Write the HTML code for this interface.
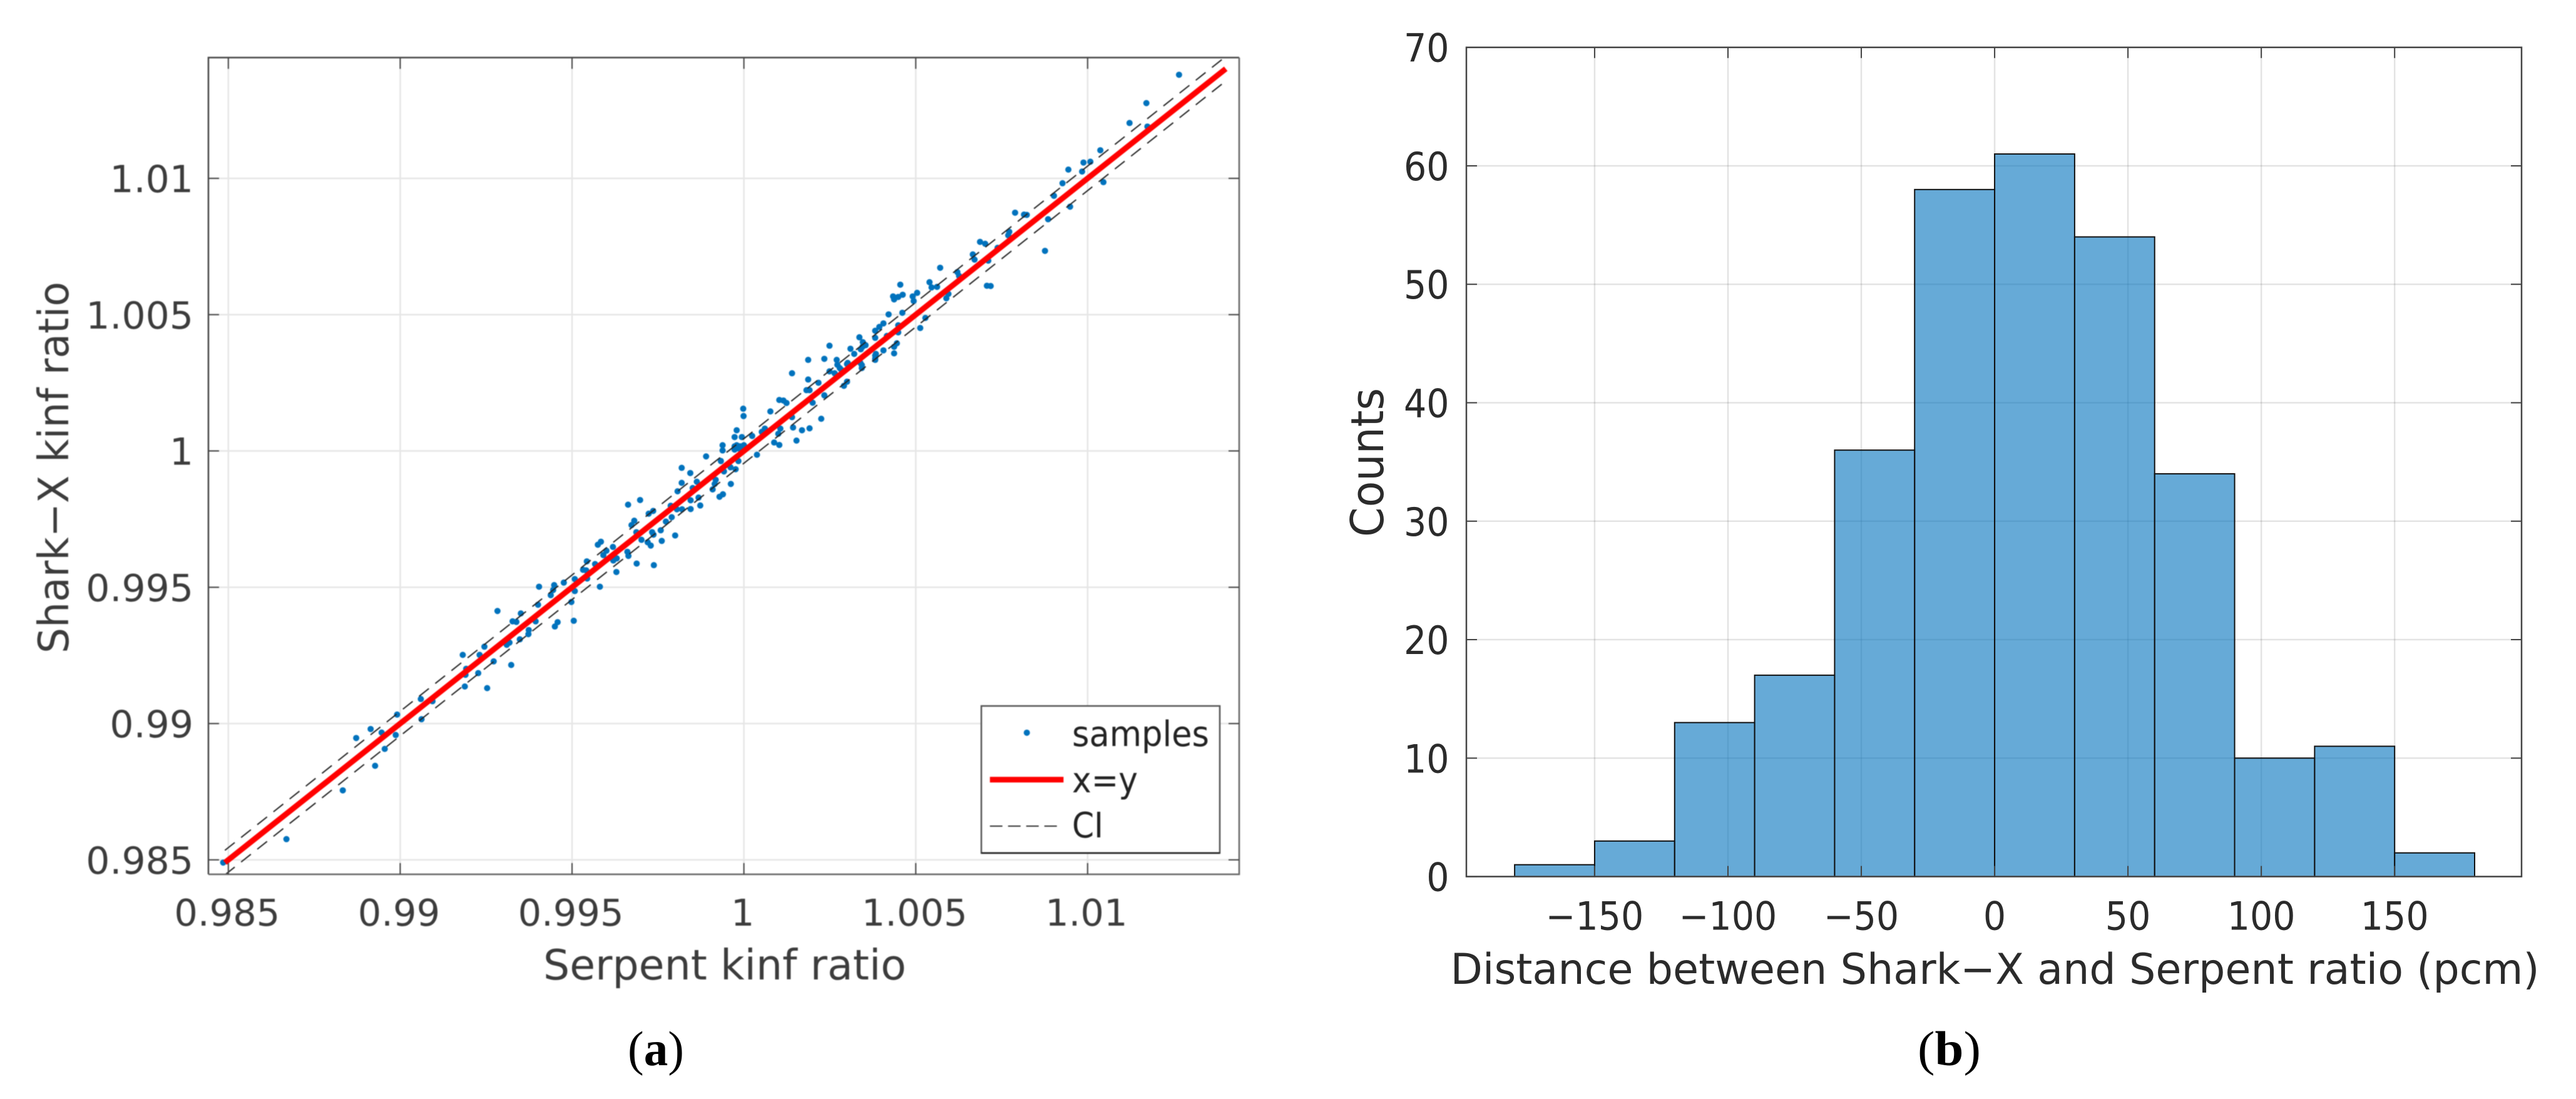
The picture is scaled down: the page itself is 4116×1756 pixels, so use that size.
<!DOCTYPE html>
<html lang="en">
<head>
<meta charset="utf-8">
<title>Shark-X vs Serpent kinf ratio</title>
<style>
html,body{margin:0;padding:0;background:#fff;}
svg{display:block;}
text{font-family:"DejaVu Sans","Liberation Sans",sans-serif;}
.cap{font-family:"Liberation Serif",serif;fill:#000;}
</style>
</head>
<body>
<svg id="figure" xmlns="http://www.w3.org/2000/svg" width="4116" height="1756" viewBox="0 0 4116 1756">
  <rect x="0" y="0" width="4116" height="1756" fill="#fff"/>
  <defs>
    <clipPath id="clip-a"><rect x="333" y="92" width="1647" height="1305"/></clipPath>
    <filter id="soft-a" x="0" y="0" width="100%" height="100%" filterUnits="userSpaceOnUse" primitiveUnits="userSpaceOnUse">
      <feGaussianBlur stdDeviation="0.9"/>
    </filter>
  </defs>

  <g id="panel-a">
    <g style="filter:blur(0.9px)">
    <g id="a-grid"></g>
    <g id="a-marks" clip-path="url(#clip-a)"></g>
    <g id="a-axes"></g>
    <text x="1158" y="1565" font-size="67" fill="#3c3c3c" text-anchor="middle" textLength="580" lengthAdjust="spacingAndGlyphs">Serpent kinf ratio</text>
    <text transform="translate(109,747) rotate(-90)" font-size="67" fill="#3c3c3c" text-anchor="middle" textLength="594" lengthAdjust="spacingAndGlyphs">Shark−X kinf ratio</text>
    <g id="legend">
      <rect x="1568" y="1128" width="381" height="235" fill="#fff" stroke="#555" stroke-width="2.5"/>
      <line x1="1568" y1="1363" x2="1949" y2="1363" stroke="#222" stroke-width="2.5"/>
      <circle cx="1640.7" cy="1170.7" r="5" fill="#0072BD"/>
      <text x="1713" y="1192" font-size="56" fill="#222" textLength="219" lengthAdjust="spacingAndGlyphs">samples</text>
      <line x1="1581.7" y1="1245.7" x2="1699.3" y2="1245.7" stroke="#ff0000" stroke-width="9"/>
      <text x="1713" y="1266" font-size="56" fill="#222" textLength="105" lengthAdjust="spacingAndGlyphs">x=y</text>
      <line x1="1581.7" y1="1320" x2="1692" y2="1320" stroke="#333" stroke-width="2" stroke-dasharray="20 9"/>
      <text x="1713" y="1338" font-size="56" fill="#222" textLength="50" lengthAdjust="spacingAndGlyphs">CI</text>
    </g>
    </g>
    <text class="cap" x="1003" y="1702" font-size="78" textLength="90" lengthAdjust="spacingAndGlyphs">(<tspan font-weight="bold">a</tspan>)</text>
  </g>

  <g id="panel-b">
    <g id="b-grid"></g>
    <g id="b-bars"></g>
    <g id="b-axes"></g>
    <text x="3187.5" y="1572" font-size="68" fill="#2b2b2b" text-anchor="middle" textLength="1740" lengthAdjust="spacingAndGlyphs">Distance between Shark−X and Serpent ratio (pcm)</text>
    <text transform="translate(2210,739) rotate(-90)" font-size="72" fill="#2b2b2b" text-anchor="middle" textLength="238" lengthAdjust="spacingAndGlyphs">Counts</text>
    <text class="cap" x="3064" y="1702" font-size="78" textLength="101" lengthAdjust="spacingAndGlyphs">(<tspan font-weight="bold">b</tspan>)</text>
  </g>
</svg>

<script>
/* ---------- Scatter chart data ---------- */
const serpentRatio = [
0.99508,0.99544,0.99476,0.99448,0.99404,0.99581,0.99445,0.99438,0.99508,0.99498,
0.99401,0.99351,0.99283,0.99327,0.99338,0.99394,0.99458,0.99450,0.99505,0.99374,
0.99373,0.99348,0.99318,0.99310,0.99245,
0.99890,0.99819,0.99844,0.99819,0.99863,0.99807,0.99851,0.99909,0.99868,0.99845,
0.99873,0.99698,0.99663,0.99787,0.99805,0.99820,0.99845,0.99736,0.99723,0.99681,
0.99673,0.99790,0.99773,0.99758,0.99687,0.99733,0.99737,0.99800,0.99702,0.99761,
0.99720,0.99729,0.99584,0.99575,0.99619,0.99600,0.99591,0.99661,0.99664,0.99630,
0.99620,0.99688,0.99738,0.99567,0.99543,0.99541,0.99532,0.99629,
0.99938,0.99938,0.99973,0.99979,0.99994,1.00024,0.99998,0.99999,0.99973,0.99979,
0.99988,0.99994,1.00000,0.99973,0.99985,0.99933,0.99984,1.00038,0.99942,0.99961,
0.99976,0.99962,0.99918,0.99915,0.99929,0.99939,
1.00061,1.00052,1.00103,1.00115,1.00124,1.00077,1.00140,1.00140,1.00106,1.00100,
1.00143,1.00169,1.00191,1.00153,1.00088,1.00103,1.00187,1.00234,1.00249,1.00187,
1.00182,1.00191,1.00217,1.00200,1.00234,1.00225,1.00264,1.00249,1.00270,1.00279,
1.00300,1.00310,1.00336,1.00346,1.00354,1.00340,1.00343,1.00343,1.00291,1.00300,
1.00382,1.00382,1.00382,1.00382,
1.01266,1.01171,1.01122,1.01174,1.01037,1.00988,1.01008,1.00984,1.00944,1.01046,
1.00927,1.00902,1.00949,1.00885,1.00789,1.00815,1.00823,1.00772,1.00769,1.00876,
1.00687,1.00702,1.00738,1.00666,1.00671,1.00711,1.00571,1.00621,1.00626,1.00540,
1.00546,1.00562,1.00707,1.00718,1.00455,1.00434,1.00437,1.00449,1.00462,1.00491,
1.00494,1.00504,1.00595,1.00589,1.00421,1.00461,1.00528,1.00513,1.00449,1.00449,
1.00406,1.00394,1.00445,1.00437,1.00437,1.00406,1.00384,1.00382,1.00416,
1.00345,1.00272,1.00284,1.00339,1.00302,1.00321,
0.98669,0.98833,0.98872,0.98914,0.98946,0.98927,0.98955,0.98991,0.98987,0.99060,
0.99094,0.99062,0.99182,0.99192,0.99190,0.99188,0.99231,0.99227,0.99253,0.99272,
0.99323,0.98485
];
const sharkRatio = [
0.99530,0.99532,0.99517,0.99508,0.99502,0.99502,0.99490,0.99471,0.99486,0.99446,
0.99436,0.99404,0.99413,0.99375,0.99373,0.99375,0.99372,0.99356,0.99377,0.99343,
0.99328,0.99309,0.99297,0.99289,0.99282,
0.99980,0.99938,0.99919,0.99883,0.99887,0.99852,0.99864,0.99859,0.99829,0.99819,
0.99800,0.99820,0.99803,0.99799,0.99786,0.99786,0.99787,0.99780,0.99770,0.99744,
0.99728,0.99757,0.99741,0.99709,0.99702,0.99702,0.99693,0.99690,0.99674,0.99670,
0.99665,0.99653,0.99667,0.99656,0.99648,0.99634,0.99618,0.99630,0.99615,0.99606,
0.99598,0.99587,0.99581,0.99585,0.99595,0.99562,0.99564,0.99556,
1.00021,1.00002,1.00051,1.00076,1.00051,1.00055,1.00155,1.00128,1.00017,1.00021,
1.00017,1.00017,1.00021,1.00005,1.00009,0.99963,0.99963,0.99986,0.99925,0.99940,
0.99933,0.99879,0.99894,0.99879,0.99832,0.99841,
1.00082,1.00070,1.00187,1.00185,1.00176,1.00145,1.00285,1.00124,1.00082,1.00063,
1.00086,1.00076,1.00083,1.00038,1.00031,1.00022,1.00334,1.00338,1.00386,1.00262,
1.00223,1.00223,1.00250,1.00177,1.00204,1.00118,1.00285,1.00292,1.00334,1.00304,
1.00319,1.00375,1.00417,1.00399,1.00388,1.00373,1.00315,1.00304,1.00239,1.00254,
1.00441,1.00415,1.00350,1.00334,
1.01380,1.01276,1.01203,1.01190,1.01103,1.01058,1.01061,1.01025,1.01032,1.00986,
1.00982,1.00936,1.00896,1.00850,1.00874,1.00867,1.00866,1.00804,1.00791,1.00734,
1.00767,1.00760,1.00745,1.00721,1.00702,1.00698,1.00672,1.00656,1.00642,1.00619,
1.00600,1.00602,1.00606,1.00605,1.00610,1.00567,1.00556,1.00565,1.00573,1.00567,
1.00550,1.00580,1.00576,1.00560,1.00501,1.00507,1.00488,1.00451,1.00461,1.00435,
1.00468,1.00455,1.00395,1.00382,1.00358,1.00369,1.00356,1.00339,1.00422,
1.00382,1.00316,1.00297,1.00323,1.00323,1.00356,
0.98576,0.98755,0.98947,0.98980,0.98967,0.98845,0.98907,0.99033,0.98958,0.99090,
0.99082,0.99016,0.99252,0.99201,0.99179,0.99136,0.99252,0.99185,0.99130,0.99228,
0.99215,0.98490
];
const identityEnds = [0.98490, 1.01402];
const ciHalfWidth = [0.00045];
const scatterXTicks = [0.985, 0.99, 0.995, 1, 1.005, 1.01];
const scatterYTicks = [0.985, 0.99, 0.995, 1, 1.005, 1.01];
const scatterTickLabels = ['0.985', '0.99', '0.995', '1', '1.005', '1.01'];
const scatterXLim = [0.98442, 1.01441];
const scatterYLim = [0.98447, 1.01443];

/* ---------- Histogram data ---------- */
const binEdges = [-180, -150, -120, -90, -60, -30, 0, 30, 60, 90, 120, 150, 180];
const binCounts = [1, 3, 13, 17, 36, 58, 61, 54, 34, 10, 11, 2];
const histXTicks = [-150, -100, -50, 0, 50, 100, 150];
const histXTickLabels = ['\u2212150', '\u2212100', '\u221250', '0', '50', '100', '150'];
const histYTicks = [0, 10, 20, 30, 40, 50, 60, 70];
const histYTickLabels = ['0', '10', '20', '30', '40', '50', '60', '70'];
const histXLim = [-198.1, 197.6];
const histYLim = [0, 70];

/* ---------- Axis functions ---------- */
function linear(dom, rng) {
  return function (v) {
    return rng[0] + (v - dom[0]) / (dom[1] - dom[0]) * (rng[1] - rng[0]);
  };
}
const xA = linear(scatterXLim, [333, 1980]);
const yA = linear(scatterYLim, [1397, 92]);
const xB = linear(histXLim, [2343, 4029]);
const yB = linear(histYLim, [1400.6, 75.7]);

const NS = 'http://www.w3.org/2000/svg';
function make(tag, attrs, parent) {
  const node = document.createElementNS(NS, tag);
  for (const k in attrs) node.setAttribute(k, attrs[k]);
  parent.appendChild(node);
  return node;
}
const gridColor = '#e6e6e6';
let el;

/* ---------- Scatter panel ---------- */
const aGrid = document.getElementById('a-grid');
const aMarks = document.getElementById('a-marks');
const aAxes = document.getElementById('a-axes');

scatterXTicks.forEach(function (t) {
  el = make('line', {x1: xA(t), x2: xA(t), y1: 92, y2: 1397, stroke: gridColor, 'stroke-width': 2.5}, aGrid);
  
  
});
scatterYTicks.forEach(function (t) {
  el = make('line', {x1: 333, x2: 1980, y1: yA(t), y2: yA(t), stroke: gridColor, 'stroke-width': 2.5}, aGrid);
  
  
});

serpentRatio.forEach(function (sx, i) {
  el = make('circle', {cx: xA(sx), cy: yA(sharkRatio[i]), r: 5, fill: '#0072BD'}, aMarks);
  
  
});

el = make('line', {x1: xA(identityEnds[0]), y1: yA(identityEnds[0]), x2: xA(identityEnds[1]), y2: yA(identityEnds[1]), stroke: '#ff0000', 'stroke-width': 9}, aMarks);



el = make('line', {x1: xA(identityEnds[0]), y1: yA(identityEnds[0] + ciHalfWidth[0]), x2: xA(identityEnds[1]), y2: yA(identityEnds[1] + ciHalfWidth[0]), stroke: '#222', 'stroke-width': 2, 'stroke-dasharray': '20 13'}, aMarks);



el = make('line', {x1: xA(identityEnds[0]), y1: yA(identityEnds[0] - ciHalfWidth[0]), x2: xA(identityEnds[1]), y2: yA(identityEnds[1] - ciHalfWidth[0]), stroke: '#222', 'stroke-width': 2, 'stroke-dasharray': '20 13'}, aMarks);



el = make('path', {d: 'M333 1397V92H1980', fill: 'none', stroke: '#444', 'stroke-width': 2.5}, aAxes);


el = make('path', {d: 'M333 1397H1980V92', fill: 'none', stroke: '#666', 'stroke-width': 2.5}, aAxes);



scatterXTicks.forEach(function (t, i) {
  el = make('path', {d: 'M' + xA(t) + ' 1397v-18M' + xA(t) + ' 92v18', stroke: '#444', 'stroke-width': 2, fill: 'none'}, aAxes);
  
  
  el = make('text', {x: xA(t) - 2, y: 1479, 'font-size': 59, fill: '#3c3c3c', 'text-anchor': 'middle'}, aAxes);
  
  
  el.textContent = scatterTickLabels[i];
});
scatterYTicks.forEach(function (t, i) {
  el = make('path', {d: 'M333 ' + yA(t) + 'h17M1980 ' + yA(t) + 'h-17', stroke: '#444', 'stroke-width': 2, fill: 'none'}, aAxes);
  
  
  el = make('text', {x: 309, y: yA(t) + 22, 'font-size': 60, fill: '#3c3c3c', 'text-anchor': 'end'}, aAxes);
  
  
  el.textContent = scatterTickLabels[i];
});

/* ---------- Histogram panel ---------- */
const bGrid = document.getElementById('b-grid');
const bBars = document.getElementById('b-bars');
const bAxes = document.getElementById('b-axes');

histXTicks.forEach(function (t) {
  el = make('line', {x1: xB(t), x2: xB(t), y1: yB(70), y2: yB(0), stroke: '#000', 'stroke-opacity': 0.11, 'stroke-width': 2.5}, bGrid);
  
  
});
histYTicks.forEach(function (t) {
  el = make('line', {x1: 2343, x2: 4029, y1: yB(t), y2: yB(t), stroke: '#000', 'stroke-opacity': 0.11, 'stroke-width': 2.5}, bGrid);
  
  
});

binCounts.forEach(function (c, i) {
  el = make('rect', {x: xB(binEdges[i]), y: yB(c), width: xB(binEdges[i + 1]) - xB(binEdges[i]), height: yB(0) - yB(c), fill: '#0072BD', 'fill-opacity': 0.6, stroke: '#111', 'stroke-width': 2}, bBars);
  
  
});

el = make('rect', {x: 2343, y: yB(70), width: 1686, height: yB(0) - yB(70), fill: 'none', stroke: '#444', 'stroke-width': 2.5}, bAxes);



function squeeze(node, factor) {
  node.setAttribute('lengthAdjust', 'spacingAndGlyphs');
  node.setAttribute('textLength', node.getComputedTextLength() * factor);
}
histXTicks.forEach(function (t, i) {
  el = make('path', {d: 'M' + xB(t) + ' ' + yB(0) + 'v-17M' + xB(t) + ' ' + yB(70) + 'v17', stroke: '#444', 'stroke-width': 2, fill: 'none'}, bAxes);
  
  
  el = make('text', {x: xB(t), y: 1485.5, 'font-size': 62, fill: '#2b2b2b', 'text-anchor': 'middle'}, bAxes);
  
  
  el.textContent = histXTickLabels[i];
  squeeze(el, 0.92);
});
histYTicks.forEach(function (t, i) {
  el = make('path', {d: 'M2343 ' + yB(t) + 'h17M4029 ' + yB(t) + 'h-17', stroke: '#444', 'stroke-width': 2, fill: 'none'}, bAxes);
  
  
  el = make('text', {x: 2315.6, y: yB(t) + 23, 'font-size': 62, fill: '#2b2b2b', 'text-anchor': 'end'}, bAxes);
  
  
  el.textContent = histYTickLabels[i];
  squeeze(el, 0.92);
});
</script>
</body>
</html>
